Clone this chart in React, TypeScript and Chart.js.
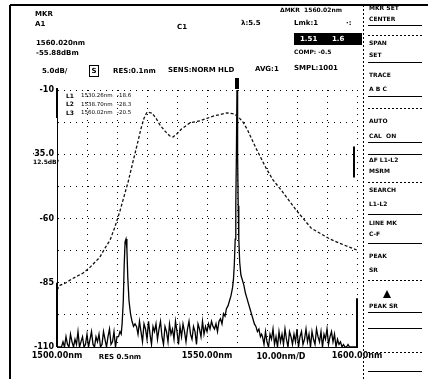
import React, { useEffect, useRef } from "react";
import { Chart, registerables } from "chart.js";

Chart.register(...registerables);

// ---- axis set-up ----
const X_MIN = 1500;
const X_MAX = 1600;
const X_STEP = 10;
const Y_MIN = -110;
const Y_MAX = -10;
const Y_STEP = 12.5;

const xTickValues = [1500, 1550, 1600];
const xTickTexts = ["1500.00nm", "1550.00nm", "1600.00nm"];
const yTickValues = [-10, -35, -60, -85, -110];
const yTickTexts = ["-10", "-35.0", "-60", "-85", "-110"];

// ---- broad ASE trace (dashed) ----
const aseWavelengths = [
  1500, 1501, 1503, 1505, 1508.7, 1511, 1514.3, 1516, 1517.7, 1519.3, 1521,
  1523.7, 1525.3, 1526.7, 1528, 1529, 1530, 1531.7, 1533, 1534.3, 1536, 1537.5,
  1538.7, 1540, 1541.5, 1544.3, 1547.7, 1550, 1552.3, 1556.7, 1559, 1560.5,
  1562, 1563.5, 1566.3, 1569.7, 1572, 1574.7, 1579.7, 1584.7, 1588, 1591, 1595,
  1600,
];
const aseLevels = [
  -87.8, -86, -85, -83.5, -81.2, -79, -75, -71.5, -68.4, -63.3, -57, -45.8, -38,
  -31.4, -25, -21, -18.6, -19, -21, -23.6, -26, -27.8, -28.3, -27, -25.2, -22.8,
  -22, -21, -20.1, -18.9, -19.3, -20.5, -22.5, -25.5, -32.6, -40.4, -45, -48.9,
  -56.7, -63.7, -66, -68, -70, -72.3,
];

// ---- laser trace (solid): noise floor segments + two peaks ----
const floorAStart = 1500;
const floorStep = 0.5;
const floorALevels = [
  -110, -110, -110, -110, -108, -110, -106, -109, -110, -105,
  -108, -110, -107, -109, -104, -110, -108, -106, -110, -109,
  -105, -110, -107, -104, -109, -110, -106, -108, -105, -110,
  -109, -104, -107, -110, -106, -103, -109, -108, -104, -110,
  -106,
];
const smallPeakWavelengths = [
  1520.5, 1521, 1521.4, 1521.7, 1522.1, 1522.4, 1522.7, 1523.0, 1523.3, 1523.6,
  1524.0, 1524.5, 1525.0, 1525.5, 1526.0,
];
const smallPeakLevels = [
  -106, -104, -105, -101, -92, -78, -69, -68, -72, -83, -92, -97, -100, -102, -101,
];
const floorBStart = 1526.5;
const floorBLevels = [
  -102, -105, -100, -104, -108, -101, -103, -107, -100, -105,
  -109, -102, -104, -101, -107, -103, -100, -106, -109, -102,
  -104, -108, -101, -105, -103, -107, -100, -104, -109, -102,
  -106, -101, -104, -108, -103, -100, -105, -107, -102, -104,
  -109, -101, -103, -106, -100, -105, -102, -104, -101, -103,
  -100, -102,
];
const mainPeakWavelengths = [
  1552.5, 1553, 1553.5, 1554, 1554.5, 1555, 1555.5, 1556, 1556.5, 1557, 1557.5,
  1558, 1558.5, 1558.8, 1559.1, 1559.4, 1559.6, 1559.8, 1560.0, 1560.2, 1560.4,
  1560.6, 1560.9, 1561.3, 1561.8, 1562.3, 1562.8, 1563.3, 1563.8, 1564.3,
  1564.8, 1565.3, 1565.8, 1566.3, 1566.8, 1567.3, 1567.8, 1568.2,
];
const mainPeakLevels = [
  -103, -101, -104, -100, -99, -101, -97, -98, -95, -94, -92, -90, -87, -84, -78,
  -68, -55, -35, -8, -35, -55, -68, -77, -82, -84, -86, -89, -91, -93, -95, -97,
  -99, -101, -102, -104, -103, -106, -105,
];
const floorCStart = 1568.5;
const floorCLevels = [
  -106, -109, -104, -108, -110, -105, -107, -103, -109, -106,
  -110, -104, -108, -105, -109, -103, -107, -110, -104, -106,
  -109, -105, -108, -103, -110, -106, -104, -109, -107, -103,
  -108, -105, -110, -104, -107, -109, -103, -106, -108, -104,
  -110, -105, -107, -103, -109, -106, -104, -108, -105, -110,
  -107, -109, -108, -110, -109, -110, -110, -109, -110, -110,
  -110, -110, -110, -110,
];

// ---- screen annotations ----
const legendRows = [
  ["L1", "1530.26nm", "-18.6"],
  ["L2", "1538.70nm", "-28.3"],
  ["L3", "1560.02nm", "-20.5"],
];
const softkeyTexts: [string, number][] = [
  ["MKR SET", 8],
  ["CENTER", 19],
  ["SPAN", 43],
  ["SET", 55],
  ["TRACE", 75],
  ["A B C", 89],
  ["AUTO", 121],
  ["CAL  ON", 136],
  ["ΔF L1-L2", 160],
  ["MSRM", 171],
  ["SEARCH", 190],
  ["L1-L2", 204],
  ["LINE MK", 223],
  ["C-F", 234],
  ["PEAK", 256],
  ["SR", 270],
  ["PEAK SR", 306],
];
const softkeyLines = [25, 35, 62, 96, 108, 142, 154, 182, 214, 243, 280, 312, 328, 352, 371];

function seg(start: number, step: number, levels: number[]) {
  return levels.map((y, i) => ({ x: start + i * step, y }));
}
function pairs(xs: number[], ys: number[]) {
  return xs.map((x, i) => ({ x, y: ys[i] }));
}

const asePoints = pairs(aseWavelengths, aseLevels);
const laserPoints = [
  ...seg(floorAStart, floorStep, floorALevels),
  ...pairs(smallPeakWavelengths, smallPeakLevels),
  ...seg(floorBStart, floorStep, floorBLevels),
  ...pairs(mainPeakWavelengths, mainPeakLevels),
  ...seg(floorCStart, floorStep, floorCLevels),
];

const FONT = "'DejaVu Sans', sans-serif";

const overlay = {
  id: "osaOverlay",
  afterDraw(chart: any) {
    const ctx: CanvasRenderingContext2D = chart.ctx;
    const xs = chart.scales.x;
    const ys = chart.scales.y;
    const area = chart.chartArea;
    ctx.save();
    ctx.fillStyle = "#000";
    ctx.strokeStyle = "#000";
    const txt = (s: string, x: number, y: number, size = 7, bold = true, align: CanvasTextAlign = "left") => {
      ctx.font = `${bold ? "bold " : ""}${size}px ${FONT}`;
      ctx.textAlign = align;
      ctx.textBaseline = "middle";
      ctx.fillText(s, x, y);
    };
    // outer frame
    ctx.lineWidth = 2;
    ctx.beginPath();
    ctx.moveTo(10, 5);
    ctx.lineTo(428, 5);
    ctx.moveTo(10, 5);
    ctx.lineTo(10, 379);
    ctx.stroke();

    // header texts
    txt("MKR", 35, 14);
    txt("A1", 35, 24);
    txt("C1", 177, 27);
    txt("1560.020nm", 36, 43);
    txt("-55.88dBm", 36, 53);
    txt("5.0dB/", 42, 71);
    ctx.lineWidth = 1;
    ctx.strokeRect(89.5, 65.5, 9, 11);
    txt("S", 94, 71, 7, true, "center");
    txt("RES:0.1nm", 113, 71);
    txt("SENS:NORM HLD", 168, 70);
    txt("AVG:1", 255, 69);
    txt("SMPL:1001", 294, 68);
    txt("ΔMKR  1560.02nm", 280, 10, 6);
    txt("λ:5.5", 241, 23);
    txt("Lmk:1", 294, 23);
    txt("·:", 346, 23);
    ctx.fillRect(294, 33, 68, 12);
    ctx.fillStyle = "#fff";
    txt("1.51      1.6", 300, 39.5);
    ctx.fillStyle = "#000";
    txt("COMP: -0.5", 294, 52, 6);

    // in-plot legend
    legendRows.forEach((r, i) => {
      const yy = 96 + i * 8.5;
      txt(r[0], 66, yy, 6);
      txt(r[1], 81, yy, 5.5, false);
      txt(r[2], 117, yy, 5.5, false);
    });
    txt("12.5dB/", 33, 162, 6);

    // edge highlights
    ctx.lineWidth = 2;
    ctx.beginPath();
    ctx.moveTo(area.left, area.top - 2);
    ctx.lineTo(area.left, area.top + 28);
    ctx.moveTo(area.left, ys.getPixelForValue(-85));
    ctx.lineTo(area.left, area.bottom);
    ctx.moveTo(xs.getPixelForValue(1599), ys.getPixelForValue(-32));
    ctx.lineTo(xs.getPixelForValue(1599), ys.getPixelForValue(-44));
    ctx.moveTo(area.right, ys.getPixelForValue(-91));
    ctx.lineTo(area.right, area.bottom);
    ctx.stroke();

    // marker above main peak
    const mx = xs.getPixelForValue(1560);
    ctx.fillRect(mx - 2, area.top - 12, 4, 11);

    // softkey panel
    ctx.lineWidth = 1;
    ctx.setLineDash([2, 2]);
    ctx.beginPath();
    ctx.moveTo(363.5, 5);
    ctx.lineTo(363.5, 379);
    ctx.stroke();
    ctx.setLineDash([]);
    softkeyLines.forEach((y, i) => {
      ctx.setLineDash(i % 3 === 1 ? [2, 2] : []);
      ctx.beginPath();
      ctx.moveTo(368, y + 0.5);
      ctx.lineTo(422, y + 0.5);
      ctx.stroke();
    });
    ctx.setLineDash([]);
    softkeyTexts.forEach(([s, y]) => txt(s, 369, y, 6));
    // triangle
    ctx.beginPath();
    ctx.moveTo(383, 298);
    ctx.lineTo(391, 298);
    ctx.lineTo(387, 290);
    ctx.closePath();
    ctx.fill();

    // bottom extra labels
    txt("RES 0.5nm", 120, 357, 7, true, "center");
    txt("10.00nm/D", 281, 357, 8, true, "center");
    ctx.restore();
  },
};

export default function App() {
  const ref = useRef<HTMLCanvasElement | null>(null);
  useEffect(() => {
    if (!ref.current) return;
    const near = (a: number, b: number) => Math.abs(a - b) < 1e-6;
    const chart = new Chart(ref.current, {
      type: "line",
      data: {
        datasets: [
          {
            label: "ASE",
            data: asePoints,
            borderColor: "#111",
            borderWidth: 1.3,
            borderDash: [3, 2],
            pointRadius: 0,
            tension: 0,
            fill: false,
          },
          {
            label: "Laser",
            data: laserPoints,
            borderColor: "#000",
            borderWidth: 1.3,
            pointRadius: 0,
            tension: 0,
            fill: false,
          },
        ],
      },
      options: {
        animation: false,
        responsive: false,
        layout: { padding: { left: 33, right: 71, top: 90, bottom: 18 } },
        plugins: { legend: { display: false }, tooltip: { enabled: false } },
        scales: {
          x: {
            type: "linear",
            min: X_MIN,
            max: X_MAX,
            ticks: {
              stepSize: X_STEP,
              autoSkip: false,
              maxRotation: 0,
              padding: 4,
              color: "#000",
              font: { family: FONT, size: 8, weight: "bold" },
              callback: (v: any) => {
                const i = xTickValues.findIndex((t) => near(t, Number(v)));
                return i >= 0 ? xTickTexts[i] : "";
              },
            },
            grid: { color: "#000", lineWidth: 1, drawTicks: false },
            border: { display: true, color: "#000", width: 1, dash: [1, 5] },
            afterFit: (s: any) => {
              s.height = 14;
            },
          },
          y: {
            type: "linear",
            min: Y_MIN,
            max: Y_MAX,
            ticks: {
              stepSize: Y_STEP,
              autoSkip: false,
              padding: 3,
              color: "#000",
              font: { family: FONT, size: 8, weight: "bold" },
              callback: (v: any) => {
                const i = yTickValues.findIndex((t) => near(t, Number(v)));
                return i >= 0 ? yTickTexts[i] : "";
              },
            },
            grid: { color: "#000", lineWidth: 1, drawTicks: false },
            border: { display: true, color: "#000", width: 1, dash: [1, 5] },
            afterFit: (s: any) => {
              s.width = 24;
            },
          },
        },
      },
      plugins: [overlay],
    } as any);
    return () => chart.destroy();
  }, []);
  return (
    <div style={{ position: "fixed", left: 0, top: 0, width: 428, height: 379, background: "#fff" }}>
      <canvas ref={ref} width={428} height={379} style={{ display: "block" }} />
    </div>
  );
}
